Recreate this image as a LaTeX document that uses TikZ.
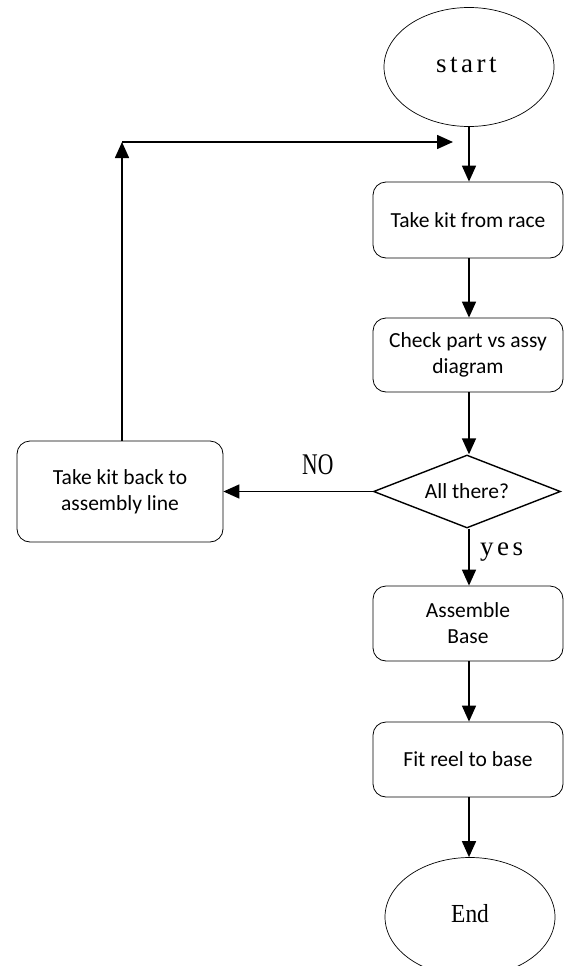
\documentclass[tikz,border=0pt]{standalone}
\usepackage{fontspec}
\usepackage{graphicx}
\usetikzlibrary{shapes.geometric,arrows.meta}
\newfontfamily\boxfont{Carlito}
\newfontfamily\lblfont{Liberation Serif}
\newfontfamily\lblfontsp[LetterSpace=13]{Liberation Serif}
\tikzset{
  procbox/.style={draw, rounded corners=13pt, line width=0.8pt, align=center,
    font=\boxfont\fontsize{21.5}{26}\selectfont, inner sep=2pt},
  term/.style={draw, ellipse, line width=0.7pt, minimum width=170pt, minimum height=119pt, inner sep=0pt},
  decide/.style={draw, diamond, aspect=2.56, line width=1.4pt, minimum width=187pt, minimum height=73pt,
    inner sep=0pt, font=\boxfont\fontsize{21.5}{26}\selectfont},
  arr/.style={line width=1.6pt, -{Triangle[length=16pt,width=14pt]}},
  lbl/.style={inner sep=0pt, anchor=base west, font=\lblfont\fontsize{26}{28}\selectfont},
  lblsp/.style={inner sep=0pt, anchor=base west, font=\lblfontsp\fontsize{27}{28}\selectfont},
}
\begin{document}
\begin{tikzpicture}[x=1pt,y=-1pt]
\useasboundingbox (0,0) rectangle (564,966);
\node[term] (start) at (469,67) {};
\node[lblsp] (starttxt) at (436,73) {start};
\node[procbox, minimum width=190pt, minimum height=76pt] (b1) at (468,220) {Take kit from race};
\node[procbox, minimum width=190pt, minimum height=74pt] (b2) at (468,355) {Check part vs assy\\diagram};
\node[decide] (dia) at (467,491.5) {All there?};
\node[procbox, minimum width=206pt, minimum height=101pt] (back) at (120,491.5) {Take kit back to\\assembly line};
\node[procbox, minimum width=190pt, minimum height=75pt] (asm) at (468,623.5) {Assemble\\Base};
\node[procbox, minimum width=190pt, minimum height=75pt] (fit) at (468,759.5) {Fit reel to base};
\node[term] (end) at (470,917) {};
\node[lbl] (endtxt) at (451,922) {\scalebox{0.9}[1]{End}};
\coordinate (corner) at (122,142);
\coordinate (tip) at (453,142);
\node[lbl, font=\lblfont\fontsize{30}{32}\selectfont] (no) at (302,474) {\scalebox{0.72}[1]{NO}};
\node[lblsp] (yes) at (480,555) {yes};
\draw[arr] (start.south -| 469,0) -- (b1.north -| 469,0);
\draw[arr] (b1.south -| 469,0) -- (b2.north -| 469,0);
\draw[arr] (b2.south -| 469,0) -- (dia.north -| 469,0);
\draw[arr] (dia.south -| 469,0) -- (asm.north -| 469,0);
\draw[arr] (asm.south -| 469,0) -- (fit.north -| 469,0);
\draw[arr] (fit.south -| 469,0) -- (end.north -| 469,0);
\draw[arr] (dia.west) -- (back.east);
\draw[arr] (back.north -| corner) -- (corner);
\draw[arr] (corner) -- (tip);
\end{tikzpicture}
\end{document}
